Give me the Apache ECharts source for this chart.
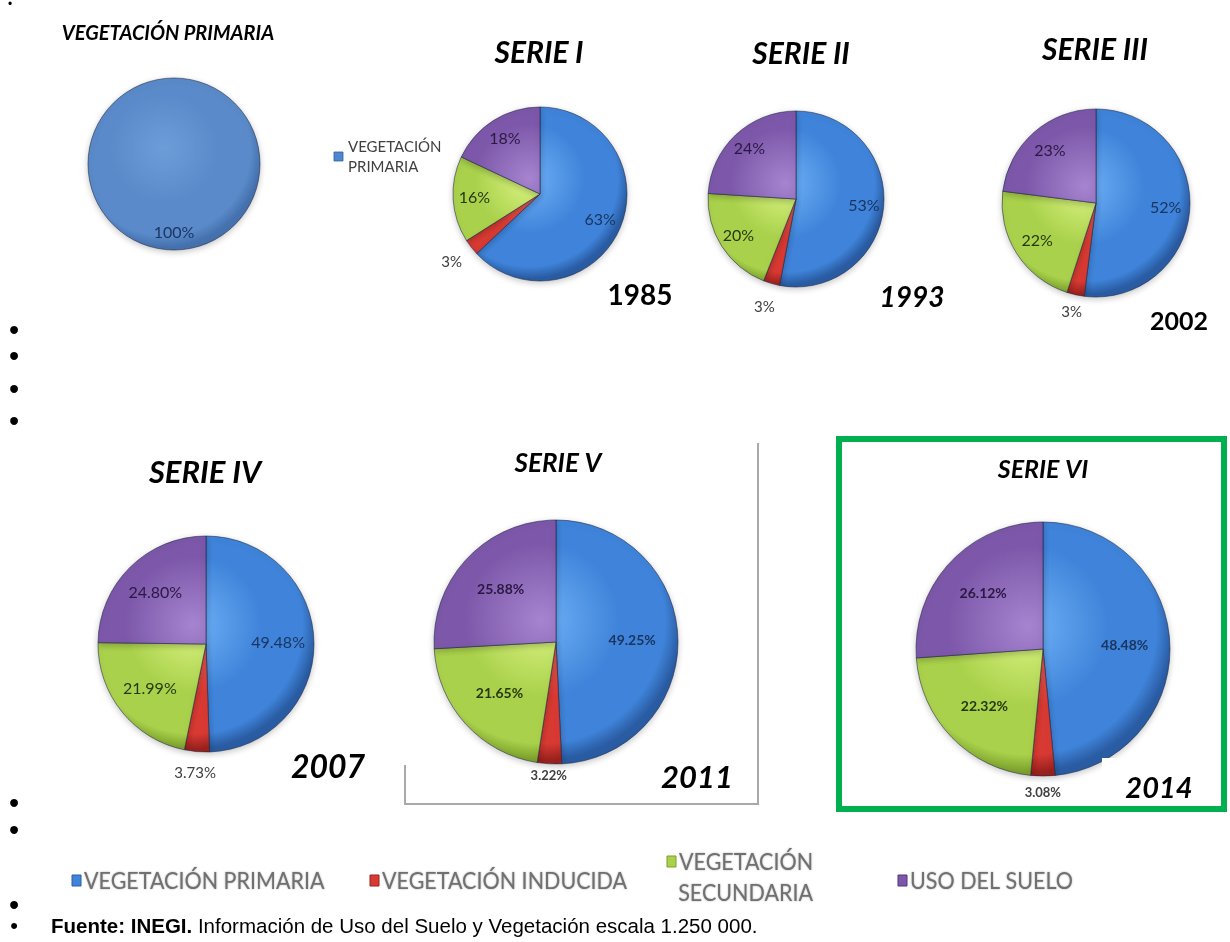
<!DOCTYPE html>
<html>
<head>
<meta charset="utf-8">
<script src="https://cdn.jsdelivr.net/npm/echarts@6/dist/echarts.min.js"></script>
<style>
  html, body { margin: 0; padding: 0; background: #ffffff; }
  #chart { width: 1230px; height: 942px; }
</style>
</head>
<body>
<div id="chart"></div>
<script>
// Land-use categories (slice order, clockwise from 12 o'clock)
const categories = ['VEGETACIÓN PRIMARIA', 'VEGETACIÓN INDUCIDA', 'VEGETACIÓN SECUNDARIA', 'USO DEL SUELO'];

// Percentage shares per INEGI series
const primaria = [100];
const serieI   = [63, 3, 16, 18];
const serieII  = [53, 3, 20, 24];
const serieIII = [52, 3, 22, 23];
const serieIV  = [49.48, 3.73, 21.99, 24.80];
const serieV   = [49.25, 3.22, 21.65, 25.88];
const serieVI  = [48.48, 3.08, 22.32, 26.12];

const pieTitles = ['VEGETACIÓN PRIMARIA', 'SERIE I', 'SERIE II', 'SERIE III', 'SERIE IV', 'SERIE V', 'SERIE VI'];
const years = ['', '1985', '1993', '2002', '2007', '2011', '2014'];
const sourceBold = 'Fuente: INEGI.';
const sourceText = ' Información de Uso del Suelo y Vegetación escala 1.250 000.';

// Slice shading: [highlight, body, rim]
const palette = [
  ['#6fb0f6', '#3f84da', '#2a5ca3'],
  ['#f36a62', '#d83a33', '#9a211d'],
  ['#dcf483', '#a9d14b', '#7b9f2b'],
  ['#a684cf', '#7d58aa', '#52357b']
];
const primaryPalette = ['#6d9dd9', '#5a8ac9', '#4571ae'];
const labelColors = ['#1a3560', '#404040', '#27390c', '#2b1842'];

// Layout of each pie: centre, radius, label ring, fonts
const layout = [
  { values: primaria, cx: 174, cy: 164, r: 86,  dec: 0, ri: 0.52, ro: 1.5,  fs: 16, fw: 'normal', single: true },
  { values: serieI,   cx: 540, cy: 194, r: 87,  dec: 0, ri: 0.44, ro: 1.5,  fs: 16, fw: 'normal' },
  { values: serieII,  cx: 796, cy: 199, r: 88,  dec: 0, ri: 0.48, ro: 1.5,  fs: 16, fw: 'normal' },
  { values: serieIII, cx: 1096, cy: 203, r: 94, dec: 0, ri: 0.42, ro: 1.32, fs: 16, fw: 'normal' },
  { values: serieIV,  cx: 206, cy: 644, r: 108, dec: 2, ri: 0.28, ro: 1.34, fs: 16, fw: 'normal' },
  { values: serieV,   cx: 556, cy: 642, r: 122, dec: 2, ri: 0.20, ro: 1.14, fs: 14, fw: 'bold' },
  { values: serieVI,  cx: 1043, cy: 649, r: 127, dec: 2, ri: 0.24, ro: 1.22, fs: 14, fw: 'bold' }
];

const titleLayout = [
  { x: 168, y: 34, fs: 20 },
  { x: 539, y: 53, fs: 30 },
  { x: 801, y: 54, fs: 30 },
  { x: 1095, y: 50, fs: 30 },
  { x: 205, y: 473, fs: 31 },
  { x: 558, y: 464, fs: 26 },
  { x: 1043, y: 470, fs: 25 }
];
const yearLayout = [
  null,
  { x: 640, y: 296, fs: 28, italic: false },
  { x: 912, y: 298, fs: 28, italic: true },
  { x: 1179, y: 322, fs: 25, italic: false },
  { x: 328, y: 768, fs: 32, italic: true },
  { x: 697, y: 778, fs: 31, italic: true },
  { x: 1159, y: 789, fs: 29, italic: true }
];

const FONT = 'Lato, "Open Sans", sans-serif';

function shade(p, colors) {
  return new echarts.graphic.RadialGradient(
    p.cx - p.r * 0.12, p.cy - p.r * 0.18, p.r * 1.15,
    [
      { offset: 0, color: colors[0] },
      { offset: 0.55, color: colors[1] },
      { offset: 0.88, color: colors[1] },
      { offset: 1, color: colors[2] }
    ],
    true
  );
}

const series = [];
layout.forEach((p, k) => {
  const common = {
    type: 'pie',
    center: [p.cx, p.cy],
    startAngle: 90,
    clockwise: true,
    animation: false,
    avoidLabelOverlap: false,
    labelLine: { show: false }
  };
  const fmt = prm => prm.value.toFixed(p.dec) + '%';

  // visible slices
  series.push(Object.assign({}, common, {
    name: pieTitles[k],
    radius: [0, p.r],
    label: { show: false },
    itemStyle: {
      borderColor: 'rgba(25,35,65,0.55)',
      borderWidth: 1,
      shadowBlur: 6,
      shadowColor: 'rgba(0,0,0,0.22)',
      shadowOffsetY: 2
    },
    data: p.values.map((v, i) => ({
      name: categories[i],
      value: v,
      itemStyle: { color: shade(p, p.single ? primaryPalette : palette[i]) }
    }))
  }));

  // inside value labels
  series.push(Object.assign({}, common, {
    radius: [p.r * p.ri, p.r],
    silent: true,
    itemStyle: { color: 'rgba(0,0,0,0)' },
    emphasis: { disabled: true },
    data: p.values.map((v, i) => ({
      name: categories[i],
      value: v,
      label: {
        show: i !== 1,
        position: 'inside',
        formatter: fmt,
        color: labelColors[i],
        fontFamily: FONT,
        fontSize: p.fs,
        fontWeight: p.fw
      }
    }))
  }));

  // outer label for the thin "inducida" slice
  if (!p.single) {
    series.push(Object.assign({}, common, {
      radius: [p.r, p.r * p.ro],
      silent: true,
      itemStyle: { color: 'rgba(0,0,0,0)' },
      emphasis: { disabled: true },
      data: p.values.map((v, i) => ({
        name: categories[i],
        value: v,
        label: {
          show: i === 1,
          position: 'inside',
          formatter: fmt,
          color: '#404040',
          fontFamily: FONT,
          fontSize: p.fs - 1,
          fontWeight: p.fw
        }
      }))
    }));
  }
});

const graphics = [];

// pie headings and years
pieTitles.forEach((t, k) => {
  const L = titleLayout[k];
  graphics.push({
    type: 'text', x: L.x, y: L.y, z: 10,
    style: {
      text: t, fill: '#000', align: 'center', verticalAlign: 'middle',
      font: 'italic bold ' + L.fs + 'px ' + FONT
    }
  });
  const Y = yearLayout[k];
  if (Y) {
    graphics.push({
      type: 'text', x: Y.x, y: Y.y, z: 10,
      style: {
        text: years[k], fill: '#000', align: 'center', verticalAlign: 'middle',
        font: (Y.italic ? 'italic ' : '') + 'bold ' + Y.fs + 'px ' + FONT
      }
    });
  }
});

// small legend beside Serie I
graphics.push({ type: 'rect', shape: { x: 334, y: 152, width: 9, height: 9 }, style: { fill: '#4f86cf', stroke: '#2f5f9f', lineWidth: 0.8 }, z: 10 });
graphics.push({
  type: 'text', x: 348, y: 157, z: 10,
  style: { text: 'VEGETACIÓN\nPRIMARIA', fill: '#404040', font: '15px ' + FONT, verticalAlign: 'middle', lineHeight: 20 }
});

// frame around Serie V
graphics.push({
  type: 'polyline', z: 5,
  shape: { points: [[405, 765], [405, 804], [758, 804], [758, 443]] },
  style: { stroke: '#a9a9a9', lineWidth: 2, fill: null }
});

// highlight box around Serie VI
graphics.push({ type: 'rect', z: 20, shape: { x: 839, y: 439, width: 385, height: 370 }, style: { fill: null, stroke: '#00b050', lineWidth: 6 } });
graphics.push({ type: 'rect', z: 8, shape: { x: 1102, y: 758, width: 103, height: 42 }, style: { fill: '#ffffff' } });

// bottom legend
const legendFont = '21.5px ' + FONT;
const legendText = (x, y, text, align) => ({
  type: 'text', x: x, y: y, scaleY: 1.1, z: 10,
  style: {
    text: text, fill: '#707070', font: legendFont, align: align || 'left', verticalAlign: 'middle',
    textShadowBlur: 2, textShadowColor: 'rgba(110,110,110,0.6)'
  }
});
const legendItems = [
  { sq: [72, 875], tx: 84, lines: [categories[0]] },
  { sq: [370, 875], tx: 382, lines: [categories[1]] },
  { sq: [667, 856], tx: 679, lines: ['VEGETACIÓN', 'SECUNDARIA'] },
  { sq: [898, 875], tx: 910, lines: [categories[3]] }
];
legendItems.forEach((it, i) => {
  graphics.push({
    type: 'rect', z: 10,
    shape: { x: it.sq[0], y: it.sq[1], width: 9, height: 11 },
    style: { fill: palette[i][1], stroke: palette[i][2], lineWidth: 1 }
  });
  graphics.push(legendText(it.tx, it.sq[1] + 6, it.lines[0]));
  if (it.lines.length > 1) {
    graphics.push(legendText(813, it.sq[1] + 37, it.lines[1], 'right'));
  }
});

// document list bullets
const bulletRows = [332, 358, 391, 423, 805, 832, 907];
graphics.push({ type: 'text', x: 10, y: 5, z: 10, style: { text: '•', fill: '#000', font: '12px "Liberation Sans"', align: 'center', verticalAlign: 'middle' } });
bulletRows.forEach(y => {
  graphics.push({ type: 'text', x: 14, y: y, z: 10, style: { text: '•', fill: '#000', font: '29px "Liberation Sans"', align: 'center', verticalAlign: 'middle' } });
});
graphics.push({ type: 'text', x: 14, y: 927, z: 10, style: { text: '•', fill: '#000', font: '22px "Liberation Sans"', align: 'center', verticalAlign: 'middle' } });

// source line
graphics.push({
  type: 'text', x: 51, y: 927, z: 10,
  style: {
    text: '{b|' + sourceBold + '}' + sourceText,
    fill: '#000', font: '20.5px "Liberation Sans"', verticalAlign: 'middle',
    rich: { b: { fontWeight: 'bold', fontSize: 20.5, fontFamily: 'Liberation Sans', fill: '#000' } }
  }
});

const chart = echarts.init(document.getElementById('chart'), null, { renderer: 'canvas' });
chart.setOption({
  backgroundColor: '#ffffff',
  animation: false,
  series: series,
  graphic: graphics
});
</script>
</body>
</html>
